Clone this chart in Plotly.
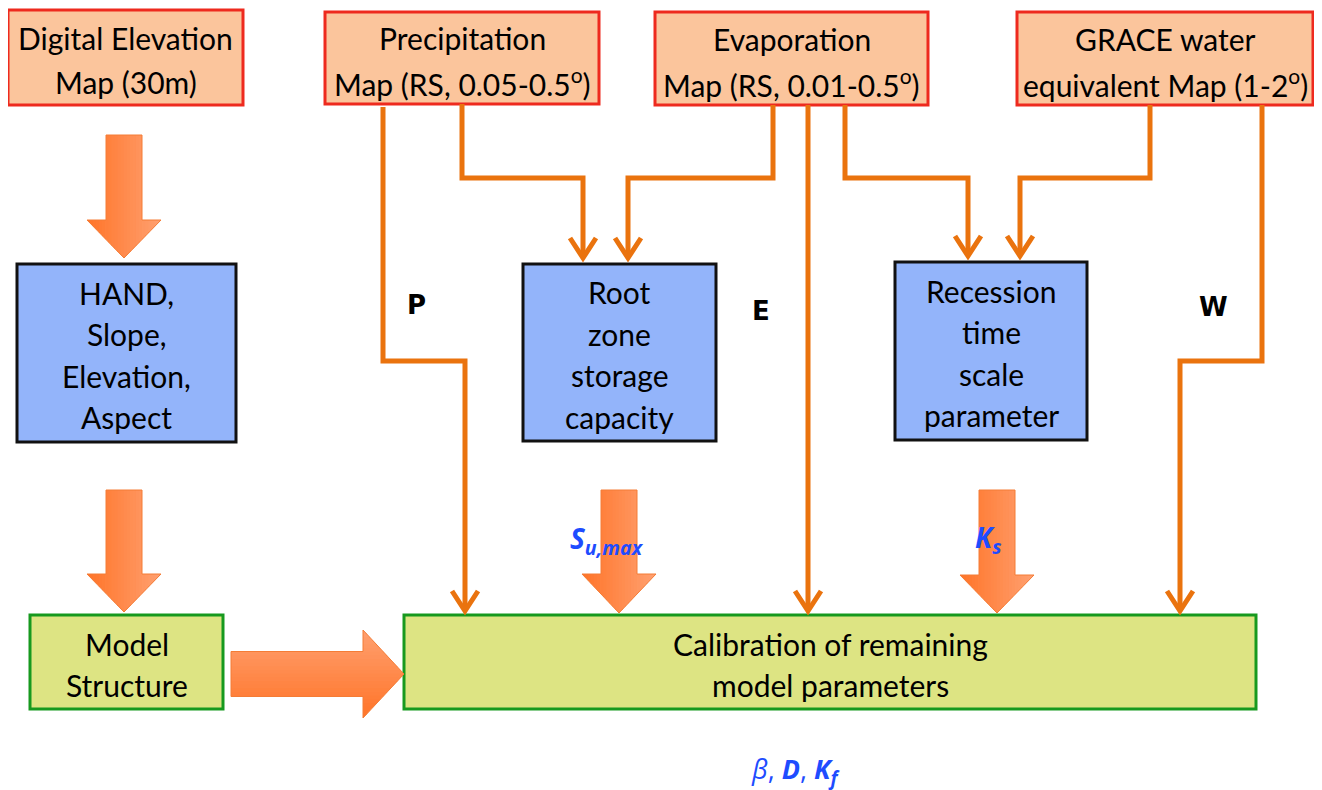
import plotly.graph_objects as go

# ---------------- data ----------------
source_labels = [["Digital Elevation", "Map (30m)"],
                 ["Precipitation", "Map (RS, 0.05-0.5<sup>o</sup>)"],
                 ["Evaporation", "Map (RS, 0.01-0.5<sup>o</sup>)"],
                 ["GRACE water", "equivalent Map (1-2<sup>o</sup>)"]]
param_labels = [["HAND,", "Slope,", "Elevation,", "Aspect"],
                ["Root", "zone", "storage", "capacity"],
                ["Recession", "time", "scale", "parameter"]]
model_labels = [["Model", "Structure"],
                ["Calibration of remaining", "model parameters"]]
flux_labels = ["P", "E", "W"]
param_symbols = ["<b><i>S<sub>u,max</sub></i></b>", "<b><i>K<sub>s</sub></i></b>"]
calib_symbols = "<i>β</i>, <b><i>D</i></b>, <b><i>K<sub>f</sub></i></b>"

# ---------------- layout geometry (page pixels) ----------------
source_boxes = [(8, 10, 243, 105), (325, 12, 599, 104), (655, 12, 928, 105), (1017, 12, 1313, 105)]
param_boxes = [(17, 264, 236, 442), (523, 264, 716, 441), (895, 262, 1087, 440)]
model_boxes = [(30, 615, 223, 709), (404, 615, 1256, 709)]

connectors = [
    [(383, 107), (383, 361), (465, 361), (465, 611)],
    [(462, 104), (462, 178), (583, 178), (583, 258)],
    [(773, 105), (773, 178), (628, 178), (628, 258)],
    [(808, 105), (808, 611)],
    [(845, 105), (845, 178), (968, 178), (968, 256)],
    [(1150, 105), (1150, 178), (1020, 178), (1020, 256)],
    [(1262, 105), (1262, 361), (1180, 361), (1180, 611)],
]
# block arrows down: (cx, top, head_top, tip)
down_blocks = [(124, 135, 220, 258), (124, 490, 574, 612), (619, 490, 574, 613), (997, 490, 575, 613)]
right_block = (231, 363, 404, 674)  # x0, head_x, tip_x, cy

flux_pos = [(416, 305), (761, 311), (1213, 307)]
sym_pos = [(607, 540), (988, 539)]
calib_pos = (796, 770)

SALMON, RED = "#FBC59C", "#EE2A1E"
BLUE, BLACK = "#93B4FA", "#111111"
YELLOW, GREEN = "#DDE483", "#17991E"
ORANGE = "#EA730E"
DARK, LIGHT, BLOCK_LINE = (255, 116, 40), (255, 160, 112), "#F47C36"
TXT_BLUE = "#1E4CFF"
FONT = "Lato"
FS = 30
TEXT_DY = 2

# body margin of the page is 8px: shift the data frame so page px == data units
OFF = 8
W, H = 1322, 790

fig = go.Figure()
shapes, annos = [], []


def box(rect, fill, line, lines, fs=FS, spacing=42):
    x0, y0, x1, y1 = rect
    shapes.append(dict(type="rect", x0=x0, y0=y0, x1=x1, y1=y1, xref="x", yref="y",
                       fillcolor=fill, line=dict(color=line, width=3), layer="below"))
    cx, cy = (x0 + x1) / 2, (y0 + y1) / 2 + TEXT_DY
    n = len(lines)
    for i, t in enumerate(lines):
        y = cy + (i - (n - 1) / 2) * spacing
        annos.append(dict(x=cx, y=y, xref="x", yref="y", text=t, showarrow=False,
                          font=dict(family=FONT, size=fs, color="black"),
                          xanchor="center", yanchor="middle"))


for r, l in zip(source_boxes, source_labels):
    box(r, SALMON, RED, l, spacing=44)
for r, l in zip(param_boxes, param_labels):
    box(r, BLUE, BLACK, l, spacing=41.5)
for r, l in zip(model_boxes, model_labels):
    box(r, YELLOW, GREEN, l, spacing=41)

# connectors with open arrowheads
for pts in connectors:
    path = "M " + " L ".join(f"{x},{y}" for x, y in pts)
    shapes.append(dict(type="path", path=path, xref="x", yref="y",
                       line=dict(color=ORANGE, width=5)))
    tx, ty = pts[-1]
    head = f"M {tx-13},{ty-20} L {tx},{ty} L {tx+13},{ty-20}"
    shapes.append(dict(type="path", path=head, xref="x", yref="y",
                       line=dict(color=ORANGE, width=5)))


def clip(poly, axis, lo, hi):
    def clip_half(pts, keep, inter):
        out = []
        n = len(pts)
        for i in range(n):
            cur, prev = pts[i], pts[i - 1]
            if keep(cur):
                if not keep(prev):
                    out.append(inter(prev, cur))
                out.append(cur)
            elif keep(prev):
                out.append(inter(prev, cur))
        return out

    def inter_at(v):
        def f(p, q):
            t = (v - p[axis]) / (q[axis] - p[axis])
            return (p[0] + t * (q[0] - p[0]), p[1] + t * (q[1] - p[1]))
        return f

    pts = clip_half(poly, lambda p: p[axis] >= lo, inter_at(lo))
    if pts:
        pts = clip_half(pts, lambda p: p[axis] <= hi, inter_at(hi))
    return pts


def gradient_arrow(poly, axis, c_start, c_end, n=24):
    vals = [p[axis] for p in poly]
    a, b = min(vals), max(vals)
    step = (b - a) / n
    for i in range(n):
        lo, hi = a + i * step - 0.4, a + (i + 1) * step + 0.4
        part = clip(poly, axis, lo, hi)
        if len(part) < 3:
            continue
        t = (i + 0.5) / n
        c = tuple(round(c_start[k] + (c_end[k] - c_start[k]) * t) for k in range(3))
        path = "M " + " L ".join(f"{x:.2f},{y:.2f}" for x, y in part) + " Z"
        shapes.append(dict(type="path", path=path, xref="x", yref="y",
                           fillcolor=f"rgb{c}", line=dict(width=0)))
    path = "M " + " L ".join(f"{x},{y}" for x, y in poly) + " Z"
    shapes.append(dict(type="path", path=path, xref="x", yref="y",
                       line=dict(color=BLOCK_LINE, width=1)))


for cx, top, ht, tip in down_blocks:
    sw, hw = 18, 37
    poly = [(cx - sw, top), (cx + sw, top), (cx + sw, ht), (cx + hw, ht), (cx, tip),
            (cx - hw, ht), (cx - sw, ht)]
    gradient_arrow(poly, 0, DARK, LIGHT)

x0, hx, tx, cy = right_block
sh, hh = 22.5, 44
poly = [(x0, cy - sh), (hx, cy - sh), (hx, cy - hh), (tx, cy), (hx, cy + hh),
        (hx, cy + sh), (x0, cy + sh)]
gradient_arrow(poly, 1, LIGHT, DARK)

for t, (x, y) in zip(flux_labels, flux_pos):
    annos.append(dict(x=x, y=y, xref="x", yref="y", text=f"<b>{t}</b>", showarrow=False,
                      font=dict(family="DejaVu Sans", size=26, color="black")))
for t, (x, y) in zip(param_symbols, sym_pos):
    annos.append(dict(x=x, y=y, xref="x", yref="y", text=t, showarrow=False,
                      font=dict(family="Open Sans", size=28, color=TXT_BLUE)))
annos.append(dict(x=calib_pos[0], y=calib_pos[1], xref="x", yref="y", text=calib_symbols,
                  showarrow=False, font=dict(family="Open Sans", size=27, color=TXT_BLUE)))

fig.update_layout(
    width=W - OFF, height=H - OFF, margin=dict(l=0, r=0, t=0, b=0, pad=0),
    paper_bgcolor="white", plot_bgcolor="white",
    xaxis=dict(range=[OFF, W], visible=False, fixedrange=True),
    yaxis=dict(range=[H, OFF], visible=False, fixedrange=True),
    shapes=shapes, annotations=annos, showlegend=False,
)
fig.write_html("out.html", config=dict(displayModeBar=False))
